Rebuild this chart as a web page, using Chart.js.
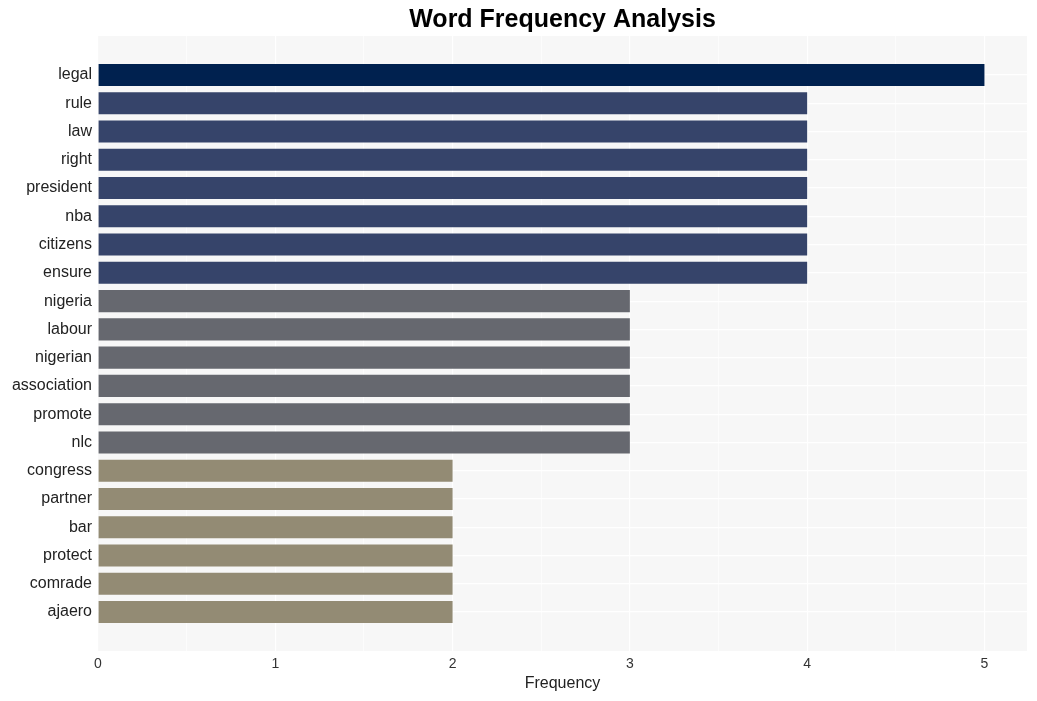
<!DOCTYPE html>
<html>
<head>
<meta charset="utf-8">
<script src="https://cdn.jsdelivr.net/npm/chart.js@4.4.1/dist/chart.umd.min.js"></script>
<style>
  html, body { margin: 0; padding: 0; background: #fff; }
  #wrap { width: 1037px; height: 701px; }
</style>
</head>
<body>
<div id="wrap"><canvas id="wordChart"></canvas></div>
<script>
const words = [
  'legal', 'rule', 'law', 'right', 'president', 'nba', 'citizens', 'ensure',
  'nigeria', 'labour', 'nigerian', 'association', 'promote', 'nlc',
  'congress', 'partner', 'bar', 'protect', 'comrade', 'ajaero'
];
const counts = [5, 4, 4, 4, 4, 4, 4, 4, 3, 3, 3, 3, 3, 3, 2, 2, 2, 2, 2, 2];
const xTicks = [0, 1, 2, 3, 4, 5];

const colorFor = (v) => {
  if (v >= 5) return '#00214f';
  if (v === 4) return '#36446a';
  if (v === 3) return '#66686f';
  return '#938b74';
};

// grey panel behind the bars + centre the title over the panel
const panelBg = {
  id: 'panelBg',
  afterLayout(chart) {
    const tb = chart.titleBlock;
    if (tb) {
      tb.left = chart.chartArea.left;
      tb.right = chart.chartArea.right;
      tb.width = tb.right - tb.left;
    }
  },
  beforeDraw(chart) {
    const { ctx, chartArea: a } = chart;
    ctx.save();
    ctx.fillStyle = '#f7f7f7';
    ctx.fillRect(a.left, a.top, a.right - a.left, a.bottom - a.top);
    ctx.restore();
  }
};

const ctx = document.getElementById('wordChart');
new Chart(ctx, {
  type: 'bar',
  data: {
    datasets: [
      {
        label: 'Frequency',
        data: counts.map((c, i) => ({ x: c, y: i })),
        backgroundColor: counts.map(colorFor),
        barPercentage: 0.78,
        categoryPercentage: 1,
      },
    ],
  },
  plugins: [panelBg],
  options: {
    responsive: true,
    maintainAspectRatio: false,
    animation: false,
    indexAxis: 'y',
    layout: { padding: { left: 0, right: 10, top: 0, bottom: 0 } },
    plugins: {
      legend: { display: false },
      tooltip: { enabled: false },
      title: {
        display: true,
        text: 'Word Frequency Analysis',
        color: '#000',
        font: { family: 'Liberation Sans, Arial, sans-serif', size: 25, weight: 'bold' },
        padding: { top: 5, bottom: 1 },
      },
    },
    scales: {
      x: {
        type: 'linear',
        bounds: 'data',
        min: 0,
        max: 5.24,
        afterBuildTicks: (scale) => {
          const t = [];
          xTicks.forEach((v) => {
            t.push({ value: v });
            if (v + 0.5 < 5.24) t.push({ value: v + 0.5 });
          });
          scale.ticks = t;
        },
        afterFit: (scale) => { scale.height = 50; },
        border: { display: false },
        grid: {
          drawTicks: false,
          color: '#ffffff',
          lineWidth: (c) => (c.tick && Number.isInteger(c.tick.value) ? 1.2 : 0.6),
        },
        ticks: {
          padding: 5,
          color: '#333',
          font: { family: 'Liberation Sans, Arial, sans-serif', size: 14 },
          callback: (v) => (Number.isInteger(v) ? String(v) : ''),
        },
        title: {
          display: true,
          text: 'Frequency',
          color: '#222',
          font: { family: 'Liberation Sans, Arial, sans-serif', size: 16 },
          padding: { top: 0, bottom: 8 },
        },
      },
      y: {
        type: 'linear',
        bounds: 'data',
        offset: false,
        reverse: true,
        min: -1.38,
        max: words.length - 1 + 1.38,
        afterBuildTicks: (scale) => {
          scale.ticks = words.map((w, i) => ({ value: i }));
        },
        afterFit: (scale) => { scale.width = 98; },
        border: { display: false },
        grid: { drawTicks: false, offset: false, color: '#ffffff', lineWidth: 1.2 },
        ticks: {
          padding: 6,
          color: '#222',
          font: { family: 'Liberation Sans, Arial, sans-serif', size: 16 },
          callback: (v) => words[v] ?? '',
        },
      },
    },
  },
});
</script>
</body>
</html>
